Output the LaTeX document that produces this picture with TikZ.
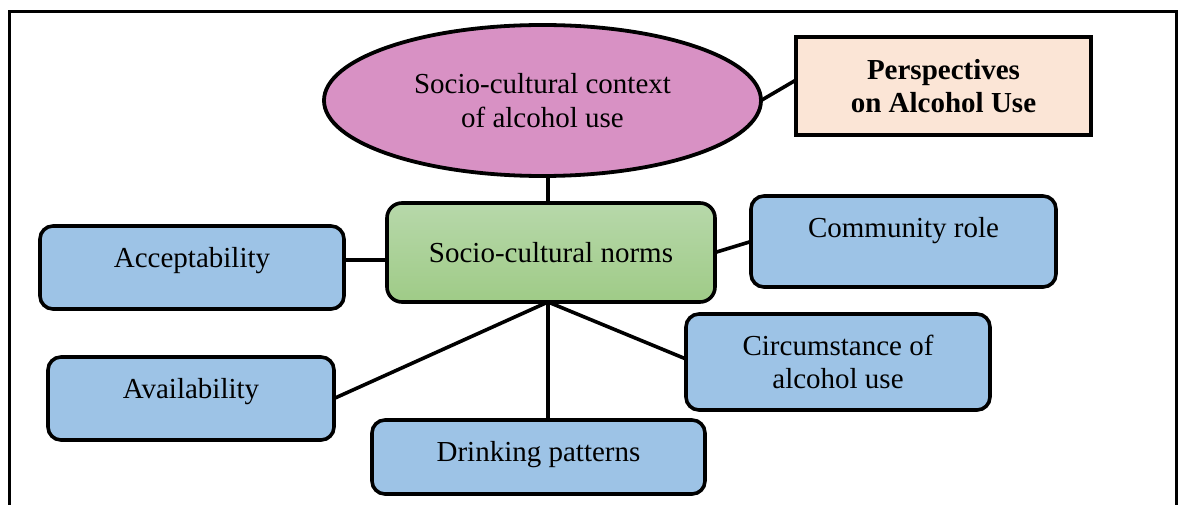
\documentclass[tikz,border=0pt]{standalone}
\usepackage{fontspec}
\setmainfont{Liberation Serif}
\usetikzlibrary{shapes.geometric,backgrounds,shadows}
\definecolor{ctxpink}{HTML}{D891C4}
\definecolor{perspeach}{HTML}{FBE5D6}
\definecolor{itemblue}{HTML}{9DC3E6}
\definecolor{normtop}{HTML}{B7D8AA}
\definecolor{normbot}{HTML}{9FCB87}
\begin{document}
\begin{tikzpicture}[x=1pt,y=-1pt,
  every node/.style={font=\fontsize{29}{33}\selectfont, inner sep=0pt, outer sep=0pt},
  link/.style={line width=3.6pt},
  itembox/.style={draw, line width=3.6pt, rounded corners=13pt, fill=itemblue,
    text height=20pt,
    drop shadow={shadow xshift=0.4pt, shadow yshift=-1.4pt, fill=black, opacity=1}},
  twoline/.style={align=center},
]
\useasboundingbox (0,0) rectangle (1181,505);

% outer frame, open at the bottom
\draw[line width=2.6pt] (9.5,540) -- (9.5,11.5) -- (1176.5,11.5) -- (1176.5,540);

% central topic
\node[ellipse, draw, line width=3.8pt, fill=ctxpink, minimum width=437pt, minimum height=151pt,
      align=center, font=\fontsize{29}{34}\selectfont]
  (ctx) at (542.5,100.5) {Socio-cultural context\\of alcohol use};

\node[draw, line width=3.8pt, fill=perspeach, minimum width=295pt, minimum height=98pt,
      align=center, font=\fontsize{29}{33}\selectfont\bfseries]
  (persp) at (943.5,86) {Perspectives\\on Alcohol Use};

\node[draw, line width=3.6pt, rounded corners=15pt, top color=normtop, bottom color=normbot,
      minimum width=328pt, minimum height=99pt, text height=20pt, text depth=1pt]
  (norms) at (551,252.5) {Socio-cultural norms};

% surrounding factors
\node[itembox, minimum width=304pt, minimum height=83pt, text depth=19pt]
  (accept) at (192,267.5) {Acceptability};
\node[itembox, minimum width=305pt, minimum height=91pt, text depth=27pt]
  (comm) at (903.5,241.5) {Community role};
\node[itembox, minimum width=286pt, minimum height=83pt, text depth=21pt]
  (avail) at (191,398.5) {Availability};
\node[itembox, minimum width=304pt, minimum height=96pt, text height=, text depth=, align=center]
  (circ) at (838,362) {Circumstance of\\alcohol use};
\node[itembox, minimum width=333pt, minimum height=74pt, text depth=12pt]
  (drink) at (538.5,457) {Drinking patterns};

\coordinate (hub) at ([xshift=-3pt]norms.south);

\begin{scope}[on background layer]
  \draw[link] ([yshift=6pt]persp.west) -- (ctx.east);
  \draw[link] (hub |- ctx) -- (hub |- norms.north);
  \draw[link] ([yshift=7.5pt]accept.east) -- ([yshift=7.5pt]accept.east -| norms.west);
  \draw[link] (norms.east) -- (comm.west);
  \draw[link] (hub) -- (avail.east);
  \draw[link] (hub) -- ([yshift=3pt]circ.west);
  \draw[link] (hub) -- (hub |- drink.north);
\end{scope}
\end{tikzpicture}
\end{document}
